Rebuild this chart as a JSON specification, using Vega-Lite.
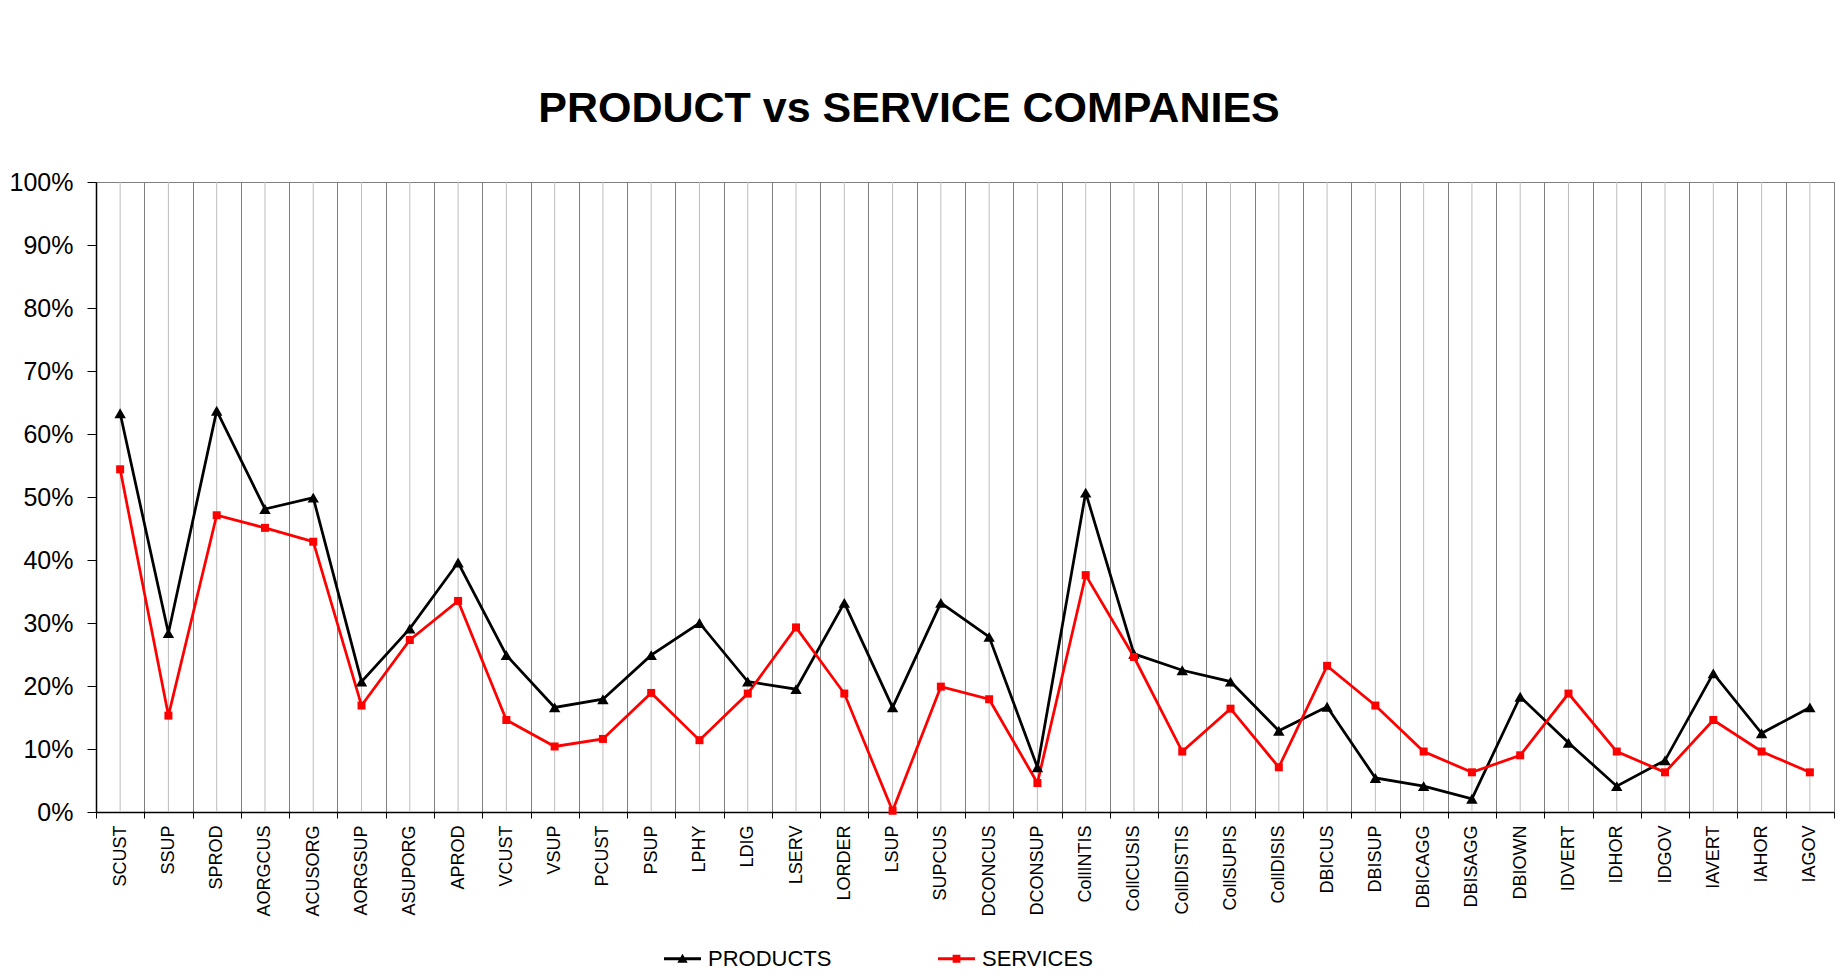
{
  "$schema": "https://vega.github.io/schema/vega-lite/v6.json",
  "autosize": {"type": "none"},
  "padding": {"left": 96, "top": 182, "right": 8, "bottom": 166},
  "width": 1738,
  "height": 630,
  "background": "white",
  "title": {
    "text": "PRODUCT vs SERVICE COMPANIES",
    "font": "Liberation Sans",
    "fontSize": 43,
    "fontWeight": "bold",
    "color": "black",
    "anchor": "middle",
    "baseline": "alphabetic",
    "offset": 5,
    "dx": -56
  },
  "data": {
    "values": [
      {"cat": "SCUST", "series": "PRODUCTS", "value": 0.633},
      {"cat": "SSUP", "series": "PRODUCTS", "value": 0.284},
      {"cat": "SPROD", "series": "PRODUCTS", "value": 0.637},
      {"cat": "AORGCUS", "series": "PRODUCTS", "value": 0.481},
      {"cat": "ACUSORG", "series": "PRODUCTS", "value": 0.499},
      {"cat": "AORGSUP", "series": "PRODUCTS", "value": 0.207},
      {"cat": "ASUPORG", "series": "PRODUCTS", "value": 0.291},
      {"cat": "APROD", "series": "PRODUCTS", "value": 0.396},
      {"cat": "VCUST", "series": "PRODUCTS", "value": 0.249},
      {"cat": "VSUP", "series": "PRODUCTS", "value": 0.166},
      {"cat": "PCUST", "series": "PRODUCTS", "value": 0.179},
      {"cat": "PSUP", "series": "PRODUCTS", "value": 0.249},
      {"cat": "LPHY", "series": "PRODUCTS", "value": 0.300},
      {"cat": "LDIG", "series": "PRODUCTS", "value": 0.207},
      {"cat": "LSERV", "series": "PRODUCTS", "value": 0.195},
      {"cat": "LORDER", "series": "PRODUCTS", "value": 0.332},
      {"cat": "LSUP", "series": "PRODUCTS", "value": 0.166},
      {"cat": "SUPCUS", "series": "PRODUCTS", "value": 0.332},
      {"cat": "DCONCUS", "series": "PRODUCTS", "value": 0.278},
      {"cat": "DCONSUP", "series": "PRODUCTS", "value": 0.071},
      {"cat": "CollINTIS", "series": "PRODUCTS", "value": 0.507},
      {"cat": "CollCUSIS", "series": "PRODUCTS", "value": 0.251},
      {"cat": "CollDISTIS", "series": "PRODUCTS", "value": 0.225},
      {"cat": "CollSUPIS", "series": "PRODUCTS", "value": 0.207},
      {"cat": "CollDISIS", "series": "PRODUCTS", "value": 0.129},
      {"cat": "DBICUS", "series": "PRODUCTS", "value": 0.167},
      {"cat": "DBISUP", "series": "PRODUCTS", "value": 0.054},
      {"cat": "DBICAGG", "series": "PRODUCTS", "value": 0.041},
      {"cat": "DBISAGG", "series": "PRODUCTS", "value": 0.021},
      {"cat": "DBIOWN", "series": "PRODUCTS", "value": 0.183},
      {"cat": "IDVERT", "series": "PRODUCTS", "value": 0.110},
      {"cat": "IDHOR", "series": "PRODUCTS", "value": 0.041},
      {"cat": "IDGOV", "series": "PRODUCTS", "value": 0.082},
      {"cat": "IAVERT", "series": "PRODUCTS", "value": 0.220},
      {"cat": "IAHOR", "series": "PRODUCTS", "value": 0.125},
      {"cat": "IAGOV", "series": "PRODUCTS", "value": 0.166},
      {"cat": "SCUST", "series": "SERVICES", "value": 0.544},
      {"cat": "SSUP", "series": "SERVICES", "value": 0.153},
      {"cat": "SPROD", "series": "SERVICES", "value": 0.471},
      {"cat": "AORGCUS", "series": "SERVICES", "value": 0.451},
      {"cat": "ACUSORG", "series": "SERVICES", "value": 0.429},
      {"cat": "AORGSUP", "series": "SERVICES", "value": 0.169},
      {"cat": "ASUPORG", "series": "SERVICES", "value": 0.273},
      {"cat": "APROD", "series": "SERVICES", "value": 0.335},
      {"cat": "VCUST", "series": "SERVICES", "value": 0.146},
      {"cat": "VSUP", "series": "SERVICES", "value": 0.104},
      {"cat": "PCUST", "series": "SERVICES", "value": 0.116},
      {"cat": "PSUP", "series": "SERVICES", "value": 0.189},
      {"cat": "LPHY", "series": "SERVICES", "value": 0.114},
      {"cat": "LDIG", "series": "SERVICES", "value": 0.188},
      {"cat": "LSERV", "series": "SERVICES", "value": 0.293},
      {"cat": "LORDER", "series": "SERVICES", "value": 0.188},
      {"cat": "LSUP", "series": "SERVICES", "value": 0.002},
      {"cat": "SUPCUS", "series": "SERVICES", "value": 0.199},
      {"cat": "DCONCUS", "series": "SERVICES", "value": 0.179},
      {"cat": "DCONSUP", "series": "SERVICES", "value": 0.046},
      {"cat": "CollINTIS", "series": "SERVICES", "value": 0.376},
      {"cat": "CollCUSIS", "series": "SERVICES", "value": 0.246},
      {"cat": "CollDISTIS", "series": "SERVICES", "value": 0.096},
      {"cat": "CollSUPIS", "series": "SERVICES", "value": 0.164},
      {"cat": "CollDISIS", "series": "SERVICES", "value": 0.071},
      {"cat": "DBICUS", "series": "SERVICES", "value": 0.232},
      {"cat": "DBISUP", "series": "SERVICES", "value": 0.169},
      {"cat": "DBICAGG", "series": "SERVICES", "value": 0.096},
      {"cat": "DBISAGG", "series": "SERVICES", "value": 0.063},
      {"cat": "DBIOWN", "series": "SERVICES", "value": 0.090},
      {"cat": "IDVERT", "series": "SERVICES", "value": 0.188},
      {"cat": "IDHOR", "series": "SERVICES", "value": 0.096},
      {"cat": "IDGOV", "series": "SERVICES", "value": 0.063},
      {"cat": "IAVERT", "series": "SERVICES", "value": 0.146},
      {"cat": "IAHOR", "series": "SERVICES", "value": 0.096},
      {"cat": "IAGOV", "series": "SERVICES", "value": 0.063}
    ]
  },
  "encoding": {
    "x": {
      "field": "cat",
      "type": "nominal",
      "sort": null,
      "scale": {"type": "band", "paddingInner": 0, "paddingOuter": 0},
      "axis": {
        "title": null,
        "tickBand": "extent",
        "grid": true,
        "gridColor": "#7f7f7f",
        "gridWidth": 1,
        "tickSize": 6,
        "tickColor": "black",
        "domainColor": "black",
        "domainWidth": 1.5,
        "labelAngle": -90,
        "labelAlign": "right",
        "labelBaseline": "middle",
        "labelFont": "Liberation Sans",
        "labelFontSize": 18,
        "labelColor": "black",
        "labelPadding": 7
      }
    }
  },
  "layer": [
    {
      "transform": [{"filter": "datum.series == 'PRODUCTS'"}],
      "mark": {"type": "rule", "color": "#bdbdbd", "strokeWidth": 1},
      "encoding": {}
    },
    {
      "mark": {"type": "line", "strokeWidth": 2.75},
      "encoding": {
        "y": {
          "field": "value",
          "type": "quantitative",
          "scale": {"domain": [0, 1], "nice": false},
          "axis": {
            "title": null,
            "values": [0, 0.1, 0.2, 0.3, 0.4, 0.5, 0.6, 0.7, 0.8, 0.9, 1],
            "format": ".0%",
            "grid": false,
            "tickSize": 9,
            "tickColor": "black",
            "domainColor": "black",
            "domainWidth": 1.5,
            "labelFont": "Liberation Sans",
            "labelFontSize": 25,
            "labelColor": "black",
            "labelPadding": 14
          }
        },
        "color": {
          "field": "series",
          "type": "nominal",
          "scale": {"domain": ["PRODUCTS", "SERVICES"], "range": ["#000000", "#ff0000"]},
          "legend": null
        }
      }
    },
    {
      "mark": {"type": "point", "filled": true, "opacity": 1},
      "encoding": {
        "y": {"field": "value", "type": "quantitative"},
        "color": {
          "field": "series",
          "type": "nominal",
          "scale": {"domain": ["PRODUCTS", "SERVICES"], "range": ["#000000", "#ff0000"]},
          "legend": null
        },
        "shape": {
          "field": "series",
          "type": "nominal",
          "scale": {"domain": ["PRODUCTS", "SERVICES"], "range": ["triangle-up", "square"]},
          "legend": null
        },
        "size": {
          "field": "series",
          "type": "nominal",
          "scale": {"domain": ["PRODUCTS", "SERVICES"], "range": [130, 64]},
          "legend": null
        }
      }
    },
    {
      "transform": [{"filter": "false"}],
      "mark": {"type": "point", "filled": true, "opacity": 1},
      "encoding": {
        "color": {
          "field": "series",
          "type": "nominal",
          "scale": {"domain": ["PRODUCTS", "SERVICES"], "range": ["#000000", "#ff0000"]},
          "legend": {
            "title": null,
            "orient": "none",
            "direction": "horizontal",
            "legendX": 568,
            "legendY": 758,
            "padding": 0,
            "symbolSize": 1369,
            "symbolStrokeWidth": 0,
            "labelOffset": 7,
            "columnPadding": 106,
            "labelFont": "Liberation Sans",
            "labelFontSize": 22,
            "labelColor": "black"
          }
        },
        "shape": {
          "field": "series",
          "type": "nominal",
          "scale": {
            "domain": ["PRODUCTS", "SERVICES"],
            "range": [
              "M-1,-0.08H1V0.08H-1Z M0,-0.27L0.28,0.21H-0.28Z",
              "M-1,-0.08H1V0.08H-1Z M-0.21,-0.21H0.21V0.21H-0.21Z"
            ]
          },
          "legend": {
            "title": null,
            "orient": "none",
            "direction": "horizontal",
            "legendX": 568,
            "legendY": 758,
            "padding": 0,
            "symbolSize": 1369,
            "symbolStrokeWidth": 0,
            "labelOffset": 7,
            "columnPadding": 106,
            "labelFont": "Liberation Sans",
            "labelFontSize": 22,
            "labelColor": "black"
          }
        }
      }
    }
  ],
  "resolve": {"scale": {"color": "independent", "shape": "independent", "size": "independent"}},
  "config": {
    "view": {"stroke": "#808080", "strokeWidth": 1},
    "font": "Liberation Sans"
  }
}
